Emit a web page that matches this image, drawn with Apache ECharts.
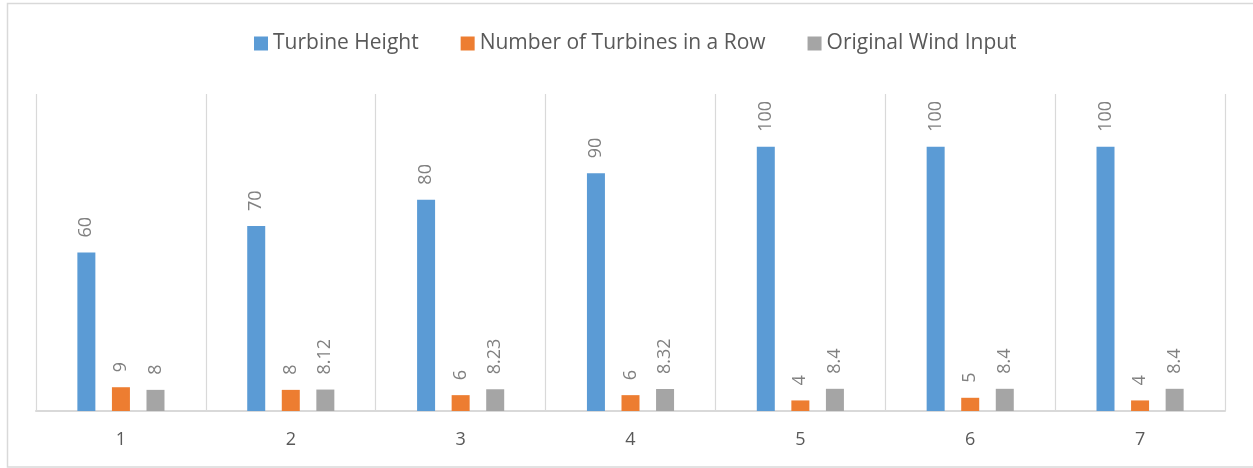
<!DOCTYPE html>
<html>
<head>
<meta charset="utf-8">
<style>
  html, body { margin: 0; padding: 0; background: #ffffff; }
  #chart { width: 1253px; height: 468px; }
</style>
<script src="https://cdn.jsdelivr.net/npm/echarts@6/dist/echarts.min.js"></script>
</head>
<body>
<div id="chart"></div>
<script>
// Wind farm layout scenarios
const categories = ['1', '2', '3', '4', '5', '6', '7'];
const turbineHeight = [60, 70, 80, 90, 100, 100, 100];
const turbinesInRow = [9, 8, 6, 6, 4, 5, 4];
const windInput = [8, 8.12, 8.23, 8.32, 8.4, 8.4, 8.4];

const FONT = '"Open Sans", "DejaVu Sans", sans-serif';
const GRID_COLOR = '#d9d9d9';

const barLabel = {
  show: true,
  position: 'top',
  rotate: 90,
  align: 'left',
  verticalAlign: 'middle',
  distance: 15,
  color: '#808080',
  fontFamily: FONT,
  fontSize: 18
};

function barSeries(name, data, color) {
  return {
    name: name,
    type: 'bar',
    data: data,
    barWidth: 18,
    barGap: '92%',
    itemStyle: { color: color },
    label: barLabel,
    emphasis: { disabled: true }
  };
}

const chart = echarts.init(document.getElementById('chart'), null, { renderer: 'canvas' });

chart.setOption({
  animation: false,
  backgroundColor: '#ffffff',
  textStyle: { fontFamily: FONT },
  graphic: [{
    type: 'rect',
    shape: { x: 7.5, y: 3.5, width: 1260, height: 463.5 },
    style: { fill: 'none', stroke: GRID_COLOR, lineWidth: 1.5 },
    silent: true,
    z: -1
  }],
  legend: {
    left: 249,
    top: 28,
    padding: 5,
    itemWidth: 14,
    itemHeight: 14,
    itemGap: 42,
    icon: 'rect',
    selectedMode: false,
    textStyle: { color: '#595959', fontFamily: FONT, fontSize: 21, lineHeight: 21 }
  },
  grid: { left: 36, right: 28, top: 94, bottom: 57, containLabel: false },
  xAxis: {
    type: 'category',
    data: categories,
    boundaryGap: true,
    axisLine: { show: true, lineStyle: { color: GRID_COLOR, width: 2 } },
    axisTick: { show: false },
    splitLine: { show: true, lineStyle: { color: GRID_COLOR, width: 1.2 } },
    axisLabel: { color: '#595959', fontFamily: FONT, fontSize: 18, margin: 20 }
  },
  yAxis: {
    type: 'value',
    min: 0,
    max: 120,
    show: false,
    splitLine: { show: false }
  },
  series: [
    barSeries('Turbine Height', turbineHeight, '#5b9bd5'),
    barSeries('Number of Turbines in a Row', turbinesInRow, '#ed7d31'),
    barSeries('Original Wind Input', windInput, '#a5a5a5')
  ]
});
</script>
</body>
</html>
